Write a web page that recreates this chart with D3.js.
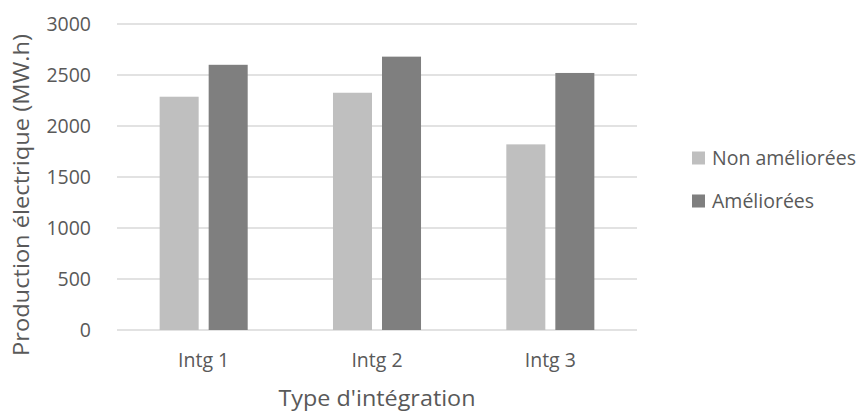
<!DOCTYPE html>
<html>
<head>
<meta charset="utf-8">
<script src="https://cdn.jsdelivr.net/npm/d3@7"></script>
<style>
  html, body { margin: 0; padding: 0; background: #fff; }
  svg { display: block; }
  text { font-family: "Open Sans", sans-serif; fill: #595959; }
</style>
</head>
<body>
<svg id="chart" width="867" height="412"></svg>
<script>
const categories = ["Intg 1", "Intg 2", "Intg 3"];
const seriesNames = ["Non améliorées", "Améliorées"];
const nonAmeliorees = [2287, 2326, 1820];
const ameliorees = [2600, 2680, 2520];
const yTicks = [0, 500, 1000, 1500, 2000, 2500, 3000];
const colors = ["#bfbfbf", "#7f7f7f"];

const seriesValues = [nonAmeliorees, ameliorees];
const svg = d3.select("#chart");

const plot = { left: 117, right: 637, top: 24, bottom: 330 };

const x = d3.scaleBand().domain(categories).range([plot.left, plot.right]).paddingInner(0).paddingOuter(0);
const x1 = d3.scaleBand().domain(seriesNames).range([0, x.bandwidth()]).paddingInner(0.204).paddingOuter(0.87);
const y = d3.scaleLinear().domain([0, 3000]).range([plot.bottom, plot.top]);

// gridlines
svg.append("g")
  .selectAll("line")
  .data(yTicks)
  .join("line")
  .attr("x1", plot.left).attr("x2", plot.right)
  .attr("y1", d => y(d)).attr("y2", d => y(d))
  .attr("stroke", "#d9d9d9").attr("stroke-width", 1.3);

// y tick labels
const yAxis = d3.axisLeft(y).tickValues(yTicks).tickFormat(d3.format("d")).tickSize(0).tickPadding(0);
const gy = svg.append("g").attr("transform", "translate(91,0)").call(yAxis);
gy.select(".domain").remove();
gy.selectAll("text").attr("font-size", "19.5px").attr("font-family", "Open Sans, sans-serif").attr("fill", "#595959");

// bars
const groups = svg.append("g").selectAll("g")
  .data(categories)
  .join("g")
  .attr("transform", d => `translate(${x(d)},0)`);

groups.selectAll("rect")
  .data((d, i) => seriesNames.map((s, j) => ({ s, v: seriesValues[j][i], c: colors[j] })))
  .join("rect")
  .attr("x", d => x1(d.s))
  .attr("width", x1.bandwidth())
  .attr("y", d => y(d.v))
  .attr("height", d => y(0) - y(d.v))
  .attr("fill", d => d.c);

// x tick labels
const xAxis = d3.axisBottom(x).tickSize(0).tickPadding(0);
const gx = svg.append("g").attr("transform", `translate(0,${plot.bottom})`).call(xAxis);
gx.select(".domain").remove();
gx.selectAll("text").attr("font-size", "19.5px").attr("font-family", "Open Sans, sans-serif").attr("fill", "#595959")
  .attr("dy", null).attr("y", 37);

// axis titles
svg.append("text")
  .attr("x", (plot.left + plot.right) / 2).attr("y", 406)
  .attr("text-anchor", "middle").attr("font-size", "21px")
  .attr("textLength", 197).attr("lengthAdjust", "spacingAndGlyphs")
  .text("Type d'intégration");

svg.append("text")
  .attr("transform", "translate(29,195) rotate(-90)")
  .attr("text-anchor", "middle").attr("font-size", "21px")
  .attr("textLength", 322).attr("lengthAdjust", "spacingAndGlyphs")
  .text("Production électrique (MW.h)");

// legend
const legend = svg.append("g").selectAll("g")
  .data(seriesNames)
  .join("g")
  .attr("transform", (d, i) => `translate(692,${158 + i * 43})`);
legend.append("rect").attr("x", 0).attr("y", -6.5).attr("width", 13).attr("height", 13)
  .attr("fill", (d, i) => colors[i]);
legend.append("text").attr("x", 20).attr("y", 0).attr("dy", "0.35em")
  .attr("font-size", "19.5px").text(d => d);
</script>
</body>
</html>
